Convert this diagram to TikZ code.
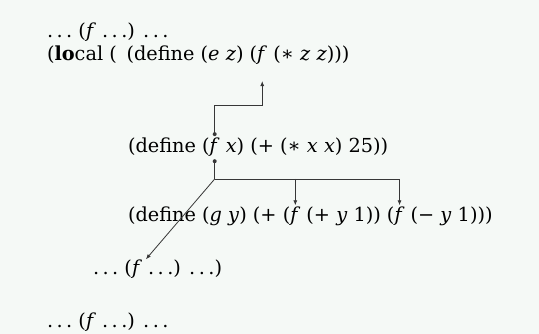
\documentclass[tikz,border=0pt]{standalone}
\usepackage{fontspec}
\setmainfont{DejaVu Serif}
\usetikzlibrary{arrows.meta,positioning}
\definecolor{paper}{RGB}{245,249,246}
\definecolor{wire}{RGB}{55,55,55}
\newcommand{\etc}{.\kern.18em.\kern.18em.}

\begin{document}
\begin{tikzpicture}[
    x=1pt, y=1pt,
    code/.style={inner sep=0pt, outer sep=0pt, anchor=base west, font=\fontsize{19.3}{22}\selectfont},
    dot/.style={circle, fill=wire, inner sep=0pt, minimum size=4pt},
    link/.style={draw=wire, line width=0.8pt},
    ref/.style={link, -{Latex[length=5pt,width=4pt]}}
]
    \fill[paper] (0,0) rectangle (539,-334);
    \useasboundingbox (0,0) rectangle (539,-334);

    % outer uses of f
    \node[code] (top) at (47,-38) {\etc\ (\textit{f} \etc) \etc};
    \node[code] (bot) at (47,-327) {\etc\ (\textit{f} \etc) \etc};

    % local block
    \node[code] (loca) at (47,-61) {(\textbf{lo}cal (\hspace{0.5em}(define (\textit{e} \textit{z}) (};
    \node[code] (fe) at (loca.base east) {\textit{f}};
    \node[code] (locb) at (fe.base east) {\ (∗ \textit{z} \textit{z})))};

    \node[code] (defa) at (128,-153) {(define (};
    \node[code] (ff) at (defa.base east) {\textit{f}};
    \node[code] (defb) at (ff.base east) {\ \textit{x}) (+ (∗ \textit{x} \textit{x}) 25))};

    \node[code] (dga) at (128,-222) {(define (\textit{g} \textit{y}) (+ (};
    \node[code] (fg1) at (dga.base east) {\textit{f}};
    \node[code] (dgb) at (fg1.base east) {\ (+ \textit{y} 1)) (};
    \node[code] (fg2) at (dgb.base east) {\textit{f}};
    \node[code] (dgc) at (fg2.base east) {\ (− \textit{y} 1)))};

    \node[code] (usea) at (93,-275) {\etc\ (};
    \node[code] (fu) at (usea.base east) {\textit{f}};
    \node[code] (useb) at (fu.base east) {\ \etc) \etc)};

    % binding arrows
    \node[dot, above=2pt of ff] (up) {};
    \node[dot, below=2pt of ff] (dn) {};
    \coordinate (bend) at (up |- 0,-105);
    \coordinate (fork) at (dn |- 0,-179);

    \draw[ref, shorten >=16pt] (up.center) -- (bend) -| (fe);
    \draw[link] (dn.center) -- (fork);
    \draw[ref, shorten >=2pt] (fork) -| (fg2);
    \draw[ref, shorten >=2pt] (fork -| fg1) -- (fg1);
    \draw[ref, shorten >=6pt] (fork) -- (fu);
\end{tikzpicture}
\end{document}
